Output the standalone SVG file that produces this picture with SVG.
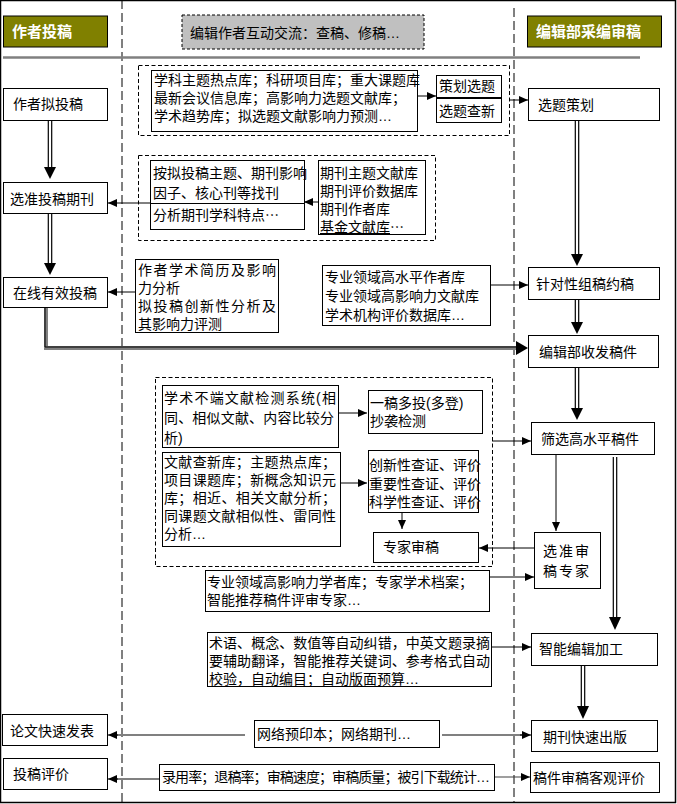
<svg xmlns="http://www.w3.org/2000/svg" width="677" height="804" viewBox="0 0 677 804">
<defs>
<style>
.bx{fill:#fff;stroke:#000;stroke-width:1}
.t{font-family:"Liberation Sans","Noto Sans CJK SC",sans-serif;font-size:14px;fill:#000}
.hd{font-family:"Liberation Sans","Noto Sans CJK SC",sans-serif;font-size:15px;font-weight:bold;fill:#fff}
.dg{fill:none;stroke:#000;stroke-width:1;stroke-dasharray:4 2.5}
.vd{fill:none;stroke:#000;stroke-width:1;stroke-dasharray:9 4}
.ln{fill:none;stroke:#000;stroke-width:1}
.gl{fill:none;stroke:#808080;stroke-width:2}
.dl{fill:none;stroke:#000;stroke-width:1.2}
</style>
<marker id="a" viewBox="0 0 9 8" refX="9" refY="4" markerWidth="9" markerHeight="8" markerUnits="userSpaceOnUse" orient="auto"><path d="M0,0 L9,4 L0,8 z" fill="#000"/></marker>
</defs>
<rect x="0.5" y="0.5" width="675" height="802" fill="#fff" stroke="#000" stroke-width="1.5"/>
<g id="lanes">
<line class="vd" x1="122" y1="0" x2="122" y2="803"/>
<line class="vd" x1="514" y1="8" x2="514" y2="803"/>
<line x1="3" y1="57.5" x2="640" y2="57.5" stroke="#808080" stroke-width="2.5"/>
</g>
<g id="hdr-author"><rect x="3.5" y="16" width="104" height="31" fill="#808000" stroke="#000"/><text class="hd" x="12" y="37">作者投稿</text></g>
<g id="hdr-interact"><rect x="182" y="15" width="242" height="34" fill="#c0c0c0" stroke="#000" stroke-dasharray="3 2"/><text class="t" x="190" y="38">编辑作者互动交流：查稿、修稿…</text></g>
<g id="hdr-editor"><rect x="527.5" y="16" width="134" height="31" fill="#808000" stroke="#000"/><text class="hd" x="536" y="37">编辑部采编审稿</text></g>

<g id="connectors">
<g fill="#000">
<path class="dl" d="M48.3,121 V167 M51.7,121 V167"/><path d="M44,167 L56,167 L50,179 z"/>
<path class="dl" d="M48.3,214 V263 M51.7,214 V263"/><path d="M44,263 L56,263 L50,275 z"/>
<path class="dl" d="M575.3,120 V254 M578.7,120 V254"/><path d="M571,254 L583,254 L577,266 z"/>
<path class="dl" d="M575.3,299 V322 M578.7,299 V322"/><path d="M571,322 L583,322 L577,334 z"/>
<path class="dl" d="M575.3,367 V408 M578.7,367 V408"/><path d="M571,408 L583,408 L577,420 z"/>
<path class="dl" d="M613.3,457 V617 M616.7,457 V617"/><path d="M609,617 L621,617 L615,630 z"/>
<path class="dl" d="M581.3,665 V706 M584.7,665 V706"/><path d="M577,706 L589,706 L583,719 z"/>
</g>
<path d="M46,307 V348 H517" fill="none" stroke="#808080" stroke-width="4"/>
<path d="M45,307 V347 H517" fill="none" stroke="#000" stroke-width="1"/>
<path d="M516,341 L528,348 L516,355 z" fill="#000"/>
<line class="ln" x1="417" y1="96" x2="436" y2="96" marker-end="url(#a)"/>
<line class="ln" x1="509" y1="100" x2="528" y2="100" marker-end="url(#a)"/>
<line class="ln" x1="150" y1="203" x2="108" y2="203" marker-end="url(#a)"/>
<line class="ln" x1="318" y1="202" x2="304" y2="202" marker-end="url(#a)"/>
<line class="ln" x1="135" y1="292" x2="108" y2="292" marker-end="url(#a)"/>
<line class="ln" x1="490" y1="285" x2="528" y2="285" marker-end="url(#a)"/>
<line class="ln" x1="338" y1="413" x2="367" y2="413" marker-end="url(#a)"/>
<line class="ln" x1="340" y1="483" x2="367" y2="483" marker-end="url(#a)"/>
<line class="ln" x1="402" y1="512" x2="402" y2="529" marker-end="url(#a)"/>
<line class="ln" x1="492" y1="441" x2="531" y2="441" marker-end="url(#a)"/>
<line class="ln" x1="556" y1="454" x2="556" y2="531" marker-end="url(#a)"/>
<line class="ln" x1="534" y1="548" x2="479" y2="548" marker-end="url(#a)"/>
<line class="ln" x1="489" y1="577" x2="534" y2="577" marker-end="url(#a)"/>
<line class="ln" x1="492" y1="647" x2="531" y2="647" marker-end="url(#a)"/>
<line class="gl" x1="245" y1="735" x2="116" y2="735"/>
<line class="ln" x1="118" y1="735" x2="108" y2="735" marker-end="url(#a)"/>
<line class="gl" x1="442" y1="735" x2="523" y2="735"/>
<line class="ln" x1="520" y1="735" x2="531" y2="735" marker-end="url(#a)"/>
<line class="gl" x1="159" y1="779" x2="116" y2="779"/>
<line class="ln" x1="118" y1="779" x2="108" y2="779" marker-end="url(#a)"/>
<line x1="495" y1="777" x2="530" y2="777" stroke="#404040" stroke-width="1.2" marker-end="url(#a)"/>
</g>

<g id="n-draft"><rect class="bx" x="3.5" y="88.5" width="104" height="32"/><text class="t" x="13" y="109">作者拟投稿</text></g>
<g id="n-select-journal"><rect class="bx" x="3.5" y="182.5" width="104" height="31"/><text class="t" x="10" y="204">选准投稿期刊</text></g>
<g id="n-online"><rect class="bx" x="3.5" y="277.5" width="104" height="30"/><text class="t" x="13" y="298">在线有效投稿</text></g>
<g id="n-publish"><rect class="bx" x="2.5" y="714.5" width="105" height="31"/><text class="t" x="10" y="736">论文快速发表</text></g>
<g id="n-eval"><rect class="bx" x="3.5" y="758.5" width="104" height="31"/><text class="t" x="13" y="779">投稿评价</text></g>

<g id="g-topic">
<rect class="dg" x="138.5" y="65.5" width="371" height="70"/>
<rect class="bx" x="151.5" y="70.5" width="266" height="61"/>
<text class="t" x="154" y="85">学科主题热点库；科研项目库；重大课题库</text>
<text class="t" x="154" y="103">最新会议信息库；高影响力选题文献库；</text>
<text class="t" x="154" y="121">学术趋势库；拟选题文献影响力预测…</text>
<rect class="bx" x="436.5" y="75.5" width="65" height="47"/>
<line x1="437" y1="98" x2="501" y2="98" stroke="#000" stroke-width="2"/>
<text class="t" x="439" y="91">策划选题</text>
<text class="t" x="439" y="116">选题查新</text>
</g>

<g id="g-journal">
<rect class="dg" x="138.5" y="155.5" width="297" height="85"/>
<rect class="bx" x="150.5" y="160.5" width="154" height="69"/>
<line class="ln" x1="151" y1="203.5" x2="304" y2="203.5"/>
<text class="t" x="153" y="178">按拟投稿主题、期刊影响</text>
<text class="t" x="153" y="198">因子、核心刊等找刊</text>
<text class="t" x="153" y="220">分析期刊学科特点⋯</text>
<rect class="bx" x="318.5" y="160.5" width="107" height="74"/>
<text class="t" x="320" y="178">期刊主题文献库</text>
<text class="t" x="320" y="196">期刊评价数据库</text>
<text class="t" x="320" y="214">期刊作者库</text>
<text class="t" x="320" y="232"><tspan text-decoration="underline">基金文献库</tspan>⋯</text>
</g>

<g id="n-author-cv"><rect class="bx" x="135.5" y="259.5" width="143" height="73"/>
<text class="t" x="138" y="275" textLength="138" lengthAdjust="spacing">作者学术简历及影响</text>
<text class="t" x="138" y="293">力分析</text>
<text class="t" x="138" y="311" textLength="138" lengthAdjust="spacing">拟投稿创新性分析及</text>
<text class="t" x="138" y="329">其影响力评测</text></g>

<g id="n-expert-db"><rect class="bx" x="322.5" y="265.5" width="168" height="60"/>
<text class="t" x="325" y="282">专业领域高水平作者库</text>
<text class="t" x="325" y="301">专业领域高影响力文献库</text>
<text class="t" x="325" y="320">学术机构评价数据库…</text></g>

<g id="g-review">
<rect class="dg" x="155.5" y="377.5" width="337" height="189"/>
<rect class="bx" x="162.5" y="385.5" width="176" height="62"/>
<text class="t" x="164" y="403" textLength="172" lengthAdjust="spacing">学术不端文献检测系统(相</text>
<text class="t" x="164" y="423" textLength="170" lengthAdjust="spacing">同、相似文献、内容比较分</text>
<text class="t" x="164" y="443">析)</text>
<rect class="bx" x="368.5" y="390.5" width="114" height="43"/>
<text class="t" x="370" y="408">一稿多投(多登)</text>
<text class="t" x="370" y="426">抄袭检测</text>
<rect class="bx" x="162.5" y="452.5" width="178" height="94"/>
<text class="t" x="164" y="467" textLength="172" lengthAdjust="spacing">文献查新库；主题热点库；</text>
<text class="t" x="164" y="485" textLength="172" lengthAdjust="spacing">项目课题库；新概念知识元</text>
<text class="t" x="164" y="503" textLength="172" lengthAdjust="spacing">库；相近、相关文献分析；</text>
<text class="t" x="164" y="521" textLength="172" lengthAdjust="spacing">同课题文献相似性、雷同性</text>
<text class="t" x="164" y="539">分析…</text>
<rect class="bx" x="368.5" y="450.5" width="110" height="62"/>
<text class="t" x="369" y="470">创新性查证、评价</text>
<text class="t" x="369" y="489">重要性查证、评价</text>
<text class="t" x="369" y="507">科学性查证、评价</text>
<rect class="bx" x="373.5" y="532.5" width="105" height="30"/>
<text class="t" x="383" y="552">专家审稿</text>
</g>

<g id="n-scholar-db"><rect class="bx" x="205.5" y="570.5" width="284" height="41"/>
<text class="t" x="207" y="587">专业领域高影响力学者库；专家学术档案；</text>
<text class="t" x="207" y="605">智能推荐稿件评审专家…</text></g>

<g id="n-intel"><rect class="bx" x="207.5" y="632.5" width="284" height="54"/>
<text class="t" x="209" y="648" textLength="281" lengthAdjust="spacing">术语、概念、数值等自动纠错，中英文题录摘</text>
<text class="t" x="209" y="666" textLength="281" lengthAdjust="spacing">要辅助翻译，智能推荐关键词、参考格式自动</text>
<text class="t" x="209" y="684">校验，自动编目；自动版面预算…</text></g>

<g id="n-preprint"><rect class="bx" x="254.5" y="720.5" width="185" height="27"/>
<text class="t" x="257" y="739">网络预印本；网络期刊…</text></g>

<g id="n-stats"><rect class="bx" x="159.5" y="764.5" width="335" height="26"/>
<text class="t" x="162" y="782" textLength="328" lengthAdjust="spacing">录用率；退稿率；审稿速度；审稿质量；被引下载统计…</text></g>

<g id="n-plan"><rect class="bx" x="528.5" y="88.5" width="131" height="32"/><text class="t" x="538" y="110">选题策划</text></g>
<g id="n-solicit"><rect class="bx" x="528.5" y="267.5" width="131" height="32"/><text class="t" x="536" y="289">针对性组稿约稿</text></g>
<g id="n-receive"><rect class="bx" x="528.5" y="335.5" width="130" height="32"/><text class="t" x="539" y="357">编辑部收发稿件</text></g>
<g id="n-screen"><rect class="bx" x="531.5" y="422.5" width="123" height="32"/><text class="t" x="541" y="444">筛选高水平稿件</text></g>
<g id="n-choose-expert"><rect class="bx" x="534.5" y="532.5" width="66" height="56"/>
<text class="t" x="543" y="556" letter-spacing="2">选准审</text>
<text class="t" x="543" y="576" letter-spacing="2">稿专家</text></g>
<g id="n-smart-edit"><rect class="bx" x="531.5" y="633.5" width="126" height="32"/><text class="t" x="539" y="654">智能编辑加工</text></g>
<g id="n-fast-pub"><rect class="bx" x="531.5" y="720.5" width="126" height="31"/><text class="t" x="543" y="742">期刊快速出版</text></g>
<g id="n-obj-eval"><rect class="bx" x="530.5" y="762.5" width="129" height="30"/><text class="t" x="533" y="783">稿件审稿客观评价</text></g>
</svg>
